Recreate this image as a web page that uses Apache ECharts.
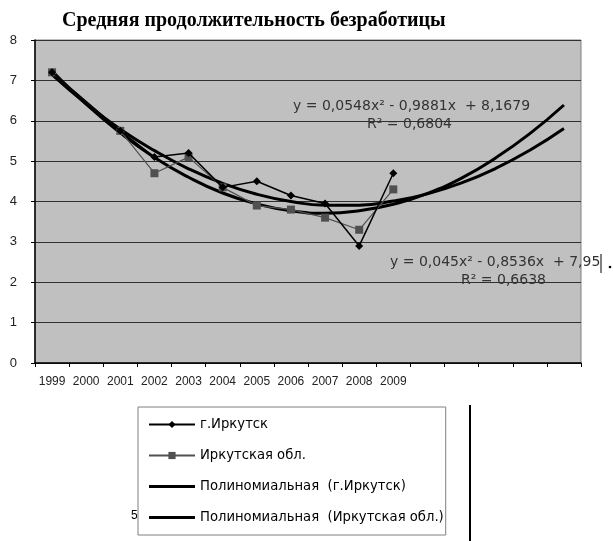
<!DOCTYPE html>
<html><head><meta charset="utf-8">
<script src="https://cdn.jsdelivr.net/npm/echarts@6/dist/echarts.min.js"></script>
<style>html,body{margin:0;padding:0;background:#fff}#c{width:613px;height:541px}</style>
</head><body><div id="c"></div>
<script>
const titleText = 'Средняя продолжительность безработицы';
const categories = ['1999','2000','2001','2002','2003','2004','2005','2006','2007','2008','2009','','','','',''];
const cityName = 'г.Иркутск';
const regionName = 'Иркутская обл.';
const trendCityName = 'Полиномиальная  (г.Иркутск)';
const trendRegionName = 'Полиномиальная  (Иркутская обл.)';
const cityValues = [7.2, null, 5.75, 5.1, 5.2, 4.35, 4.5, 4.15, 3.95, 2.9, 4.7];
const regionValues = [7.2, null, 5.75, 4.7, 5.1, 4.35, 3.9, 3.8, 3.6, 3.3, 4.3];
const trendRegionValues = [7.23, 6.41, 5.70, 5.09, 4.60, 4.21, 3.94, 3.77, 3.71, 3.77, 3.93, 4.20, 4.58, 5.08, 5.68, 6.39];
const trendCityValues = [7.14, 6.42, 5.79, 5.26, 4.81, 4.45, 4.18, 4.00, 3.91, 3.91, 4.01, 4.19, 4.46, 4.82, 5.27, 5.81];
const eq1 = 'y = 0,0548x² - 0,9881x  + 8,1679';
const r1 = 'R² = 0,6804';
const eq2 = 'y = 0,045x² - 0,8536x  + 7,95';
const r2 = 'R² = 0,6638';

const chart = echarts.init(document.getElementById('c'), null, {renderer: 'canvas'});
const eqFont = {fontFamily: 'DejaVu Sans', fontSize: 14, fill: '#333'};
const lineIcon = 'path://M0,0 L47,0 L47,3 L0,3 Z';
chart.setOption({
  animation: false,
  backgroundColor: '#fff',
  title: {
    text: titleText, left: 62, top: 11, padding: 0,
    textStyle: {fontFamily: 'Liberation Serif', fontWeight: 'bold', fontSize: 20, color: '#000'}
  },
  grid: {left: 35, right: 32, top: 40, bottom: 178, show: true, backgroundColor: '#c0c0c0', borderColor: '#808080', borderWidth: 1},
  xAxis: {
    type: 'category', data: categories, boundaryGap: true,
    axisLine: {lineStyle: {color: '#000', width: 1.5}},
    axisTick: {show: true, interval: 0, length: 4, lineStyle: {color: '#000'}},
    axisLabel: {interval: 0, fontFamily: 'Liberation Sans', fontSize: 12, color: '#222', margin: 13}
  },
  yAxis: {
    type: 'value', min: 0, max: 8, interval: 1,
    axisLine: {show: true, lineStyle: {color: '#000', width: 1.5}},
    axisTick: {show: true, length: 4, lineStyle: {color: '#000'}},
    axisLabel: {fontFamily: 'Liberation Sans', fontSize: 13, color: '#222', margin: 18},
    splitLine: {lineStyle: {color: '#303030', width: 1}}
  },
  legend: {
    orient: 'vertical', left: 138, top: 407,
    padding: [9, 2, 9, 10], itemGap: 14, itemWidth: 46, itemHeight: 9,
    borderColor: '#808080', borderWidth: 1, backgroundColor: '#fff',
    textStyle: {fontFamily: 'DejaVu Sans', fontSize: 13.2, color: '#000', lineHeight: 17},
    data: [cityName, regionName, {name: trendCityName, icon: lineIcon}, {name: trendRegionName, icon: lineIcon}]
  },
  series: [
    {name: trendRegionName, type: 'line', data: trendRegionValues, smooth: 0.5, symbol: 'none', lineStyle: {color: '#000', width: 3}, itemStyle: {color: '#000'}, z: 3},
    {name: trendCityName, type: 'line', data: trendCityValues, smooth: 0.5, symbol: 'none', lineStyle: {color: '#000', width: 3}, itemStyle: {color: '#000'}, z: 3},
    {name: regionName, type: 'line', data: regionValues, connectNulls: true, symbol: 'rect', symbolSize: 8, lineStyle: {color: '#505050', width: 1.2}, itemStyle: {color: '#505050'}, z: 4},
    {name: cityName, type: 'line', data: cityValues, connectNulls: true, symbol: 'diamond', symbolSize: 8, lineStyle: {color: '#000', width: 1.5}, itemStyle: {color: '#000'}, z: 5}
  ],
  graphic: [
    {type: 'text', left: 293, top: 99, style: Object.assign({text: eq1}, eqFont)},
    {type: 'text', left: 367, top: 117, style: Object.assign({text: r1}, eqFont)},
    {type: 'text', left: 390, top: 255, style: Object.assign({text: eq2}, eqFont)},
    {type: 'text', left: 461, top: 273, style: Object.assign({text: r2}, eqFont)},
    {type: 'line', shape: {x1: 601, y1: 254, x2: 601, y2: 273}, style: {stroke: '#000', lineWidth: 1}},
    {type: 'circle', shape: {cx: 610, cy: 267, r: 1.3}, style: {fill: '#000'}},
    {type: 'text', left: 131, top: 510, style: {text: '5', fontFamily: 'Liberation Sans', fontSize: 12, fill: '#000'}},
    {type: 'line', shape: {x1: 470, y1: 405, x2: 470, y2: 541}, style: {stroke: '#000', lineWidth: 2}}
  ]
});
</script></body></html>
